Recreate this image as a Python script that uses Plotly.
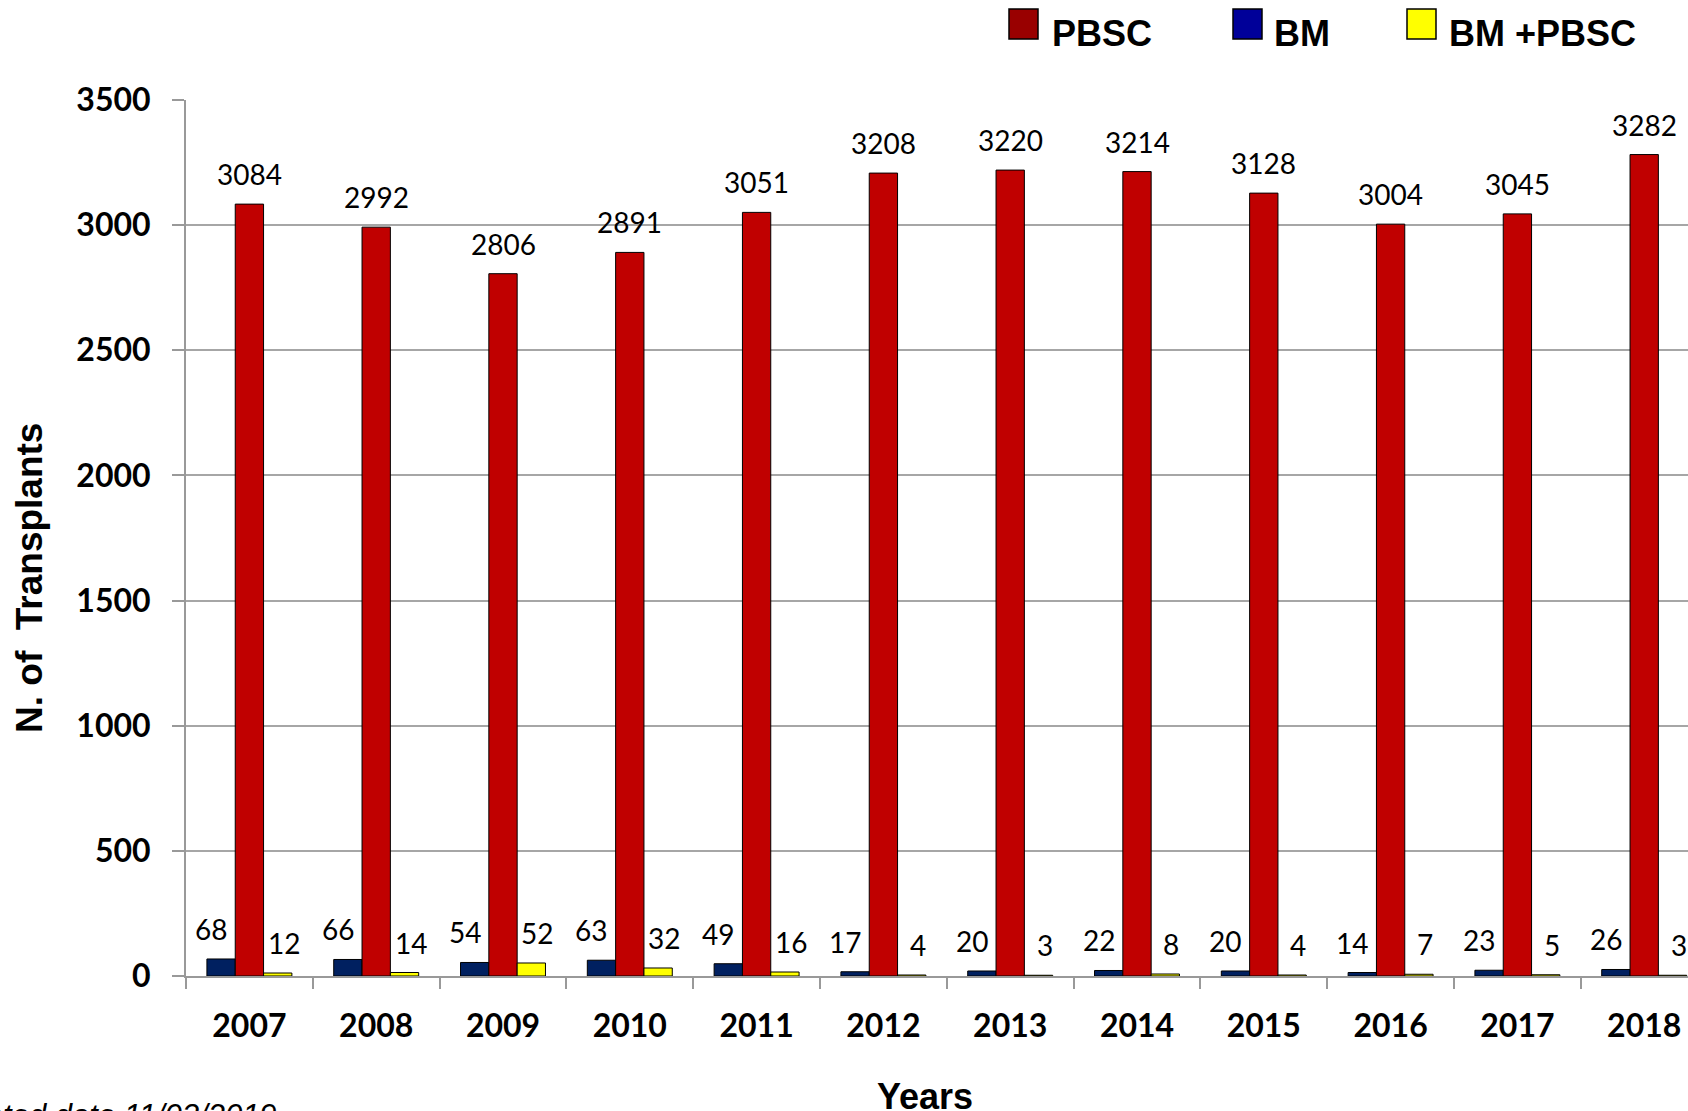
import plotly.graph_objects as go

years = ["2007", "2008", "2009", "2010", "2011", "2012", "2013", "2014", "2015", "2016", "2017", "2018"]
pbsc = [3084, 2992, 2806, 2891, 3051, 3208, 3220, 3214, 3128, 3004, 3045, 3282]
bm = [68, 66, 54, 63, 49, 17, 20, 22, 20, 14, 23, 26]
bm_pbsc = [12, 14, 52, 32, 16, 4, 3, 8, 4, 7, 5, 3]
series_names = ["PBSC", "BM", "BM +PBSC"]
y_ticks = [0, 500, 1000, 1500, 2000, 2500, 3000, 3500]

W, H = 1688, 1111
L, R, T, B = 186, 0, 100, 135
PW, PH = W - L - R, H - T - B
CAT = 126.8  # px per category


def px_x(px):
    return (px - L) / PW


def px_y(py):
    return (H - B - py) / PH


fig = go.Figure()
line = dict(color="black", width=1)
fig.add_bar(x=years, y=bm, name="BM", marker=dict(color="#002060", line=line), showlegend=False)
fig.add_bar(x=years, y=pbsc, name="PBSC", marker=dict(color="#C00000", line=line), showlegend=False)
fig.add_bar(x=years, y=bm_pbsc, name="BM +PBSC", marker=dict(color="#FFFF00", line=line), showlegend=False)

label_font = dict(family="Lato, Open Sans, sans-serif", size=28, color="black")
bar_w = CAT * (1 - 0.33) / 3
annotations = []
for vals, dx in [(bm, -bar_w - 10), (pbsc, 0), (bm_pbsc, bar_w + 6)]:
    for i, v in enumerate(vals):
        annotations.append(dict(x=i, y=v, xref="x", yref="y", text=str(v), showarrow=False,
                                xshift=dx, yshift=30, font=label_font, yanchor="middle"))

# legend (manual, larger swatches)
leg = [("PBSC", "#990000", 1009, 1050), ("BM", "#000099", 1233, 1272), ("BM +PBSC", "#FFFF00", 1407, 1447)]
shapes = []
for name, col, sx, tx in leg:
    shapes.append(dict(type="rect", xref="paper", yref="paper",
                       x0=px_x(sx), x1=px_x(sx + 29), y0=px_y(39), y1=px_y(9),
                       fillcolor=col, line=dict(color="black", width=1.5)))
    annotations.append(dict(xref="paper", yref="paper", x=px_x(tx), y=px_y(34), text=f"<b>{name}</b>",
                            showarrow=False, xanchor="left", yanchor="middle",
                            font=dict(family="Liberation Sans, Arial, sans-serif", size=36, color="black")))

annotations.append(dict(xref="paper", yref="paper", x=px_x(29), y=px_y(578), text="<b>N. of  Transplants</b>",
                        textangle=-90, showarrow=False, xanchor="center", yanchor="middle",
                        font=dict(family="Liberation Sans, Arial, sans-serif", size=37, color="black")))
annotations.append(dict(xref="paper", yref="paper", x=px_x(925), y=px_y(1074), text="<b>Years</b>",
                        showarrow=False, xanchor="center", yanchor="top",
                        font=dict(family="Liberation Sans, Arial, sans-serif", size=36, color="black")))
annotations.append(dict(xref="paper", yref="paper", x=px_x(279), y=px_y(1096), text="<i>Updated date 11/03/2019</i>",
                        showarrow=False, xanchor="right", yanchor="top",
                        font=dict(family="Liberation Sans, Arial, sans-serif", size=31, color="black")))

fig.update_layout(
    width=W, height=H,
    margin=dict(l=L, r=R, t=T, b=B, pad=0),
    paper_bgcolor="white", plot_bgcolor="white",
    barmode="group", bargap=0.33, bargroupgap=0,
    shapes=shapes, annotations=annotations,
    xaxis=dict(type="category", range=[-0.5, -0.5 + PW / CAT], tickson="boundaries",
               ticks="outside", ticklen=11, tickcolor="#999999", tickwidth=2,
               showline=True, linecolor="#999999", linewidth=2, showgrid=False,
               tickfont=dict(family="Lato, sans-serif", size=32, color="black", weight="bold"),
               ticklabelstandoff=21),
    yaxis=dict(range=[0, 3500], tickvals=y_ticks, ticks="outside", ticklen=12, tickcolor="#999999",
               tickwidth=2, showline=True, linecolor="#999999", linewidth=2,
               showgrid=True, gridcolor="#A6A6A6", gridwidth=1.5, zeroline=False,
               tickfont=dict(family="Lato, sans-serif", size=32, color="black", weight="bold"),
               ticklabelstandoff=15),
)

fig.write_html("out.html")
